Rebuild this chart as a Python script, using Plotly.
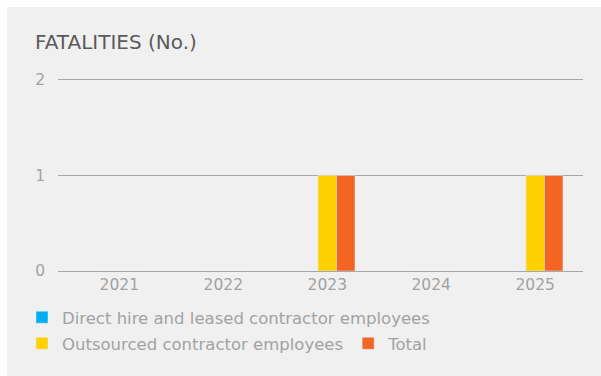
import plotly.graph_objects as go

years = ["2021", "2022", "2023", "2024", "2025"]
direct_hire = [0, 0, 0, 0, 0]
outsourced = [0, 0, 1, 0, 1]
total = [0, 0, 1, 0, 1]

FONT = "DejaVu Sans"
WEIGHT = 400
GREY = "#a2a2a2"
W, H = 601, 376
L, R, T, B = 58, 18, 78, 105
pw, ph = W - L - R, H - T - B

def px_x(px):
    return (px - L) / pw

def px_y(py):
    return (H - B - py) / ph

colors = ["#00AEEF", "#FFD100", "#F26522"]
fig = go.Figure()
fig.add_trace(go.Bar(x=years, y=direct_hire, name="Direct hire and leased contractor employees",
                     marker=dict(color=colors[0]), legend="legend", showlegend=True))
fig.add_trace(go.Bar(x=years, y=outsourced, name="Outsourced contractor employees",
                     marker=dict(color=colors[1]), legend="legend2", showlegend=True))
fig.add_trace(go.Bar(x=years, y=total, name="Total",
                     marker=dict(color=colors[2]), legend="legend2", showlegend=True))

legend_common = dict(orientation="h", xref="container", yref="container",
                     font=dict(family=FONT, size=16.5, color=GREY, weight=WEIGHT),
                     bgcolor="rgba(0,0,0,0)", borderwidth=0, visible=True,
                     xanchor="left", yanchor="middle", traceorder="normal")

fig.update_layout(
    width=W, height=H,
    margin=dict(l=L, r=R, t=T, b=B, autoexpand=False),
    paper_bgcolor="#f0f0f0",
    plot_bgcolor="#f0f0f0",
    showlegend=True,
    barmode="group",
    bargap=0.466,
    bargroupgap=0,
    font=dict(family=FONT, color=GREY, weight=WEIGHT),
    title=dict(text="FATALITIES (No.)", x=35 / W, xanchor="left", xref="container",
               y=1 - 42 / H, yanchor="middle", yref="container",
               font=dict(family=FONT, size=20, color="#5a5a5a", weight=WEIGHT)),
    xaxis=dict(type="category", range=[-0.59, 4.46], showgrid=False, zeroline=False,
               showline=False, ticks="", ticklabelstandoff=2,
               tickfont=dict(family=FONT, size=15.5, color=GREY, weight=WEIGHT),
               fixedrange=True),
    yaxis=dict(range=[0, 2.02], tickvals=[0, 1, 2], showgrid=True, gridcolor="#a8a8a8",
               gridwidth=1, zeroline=True, zerolinecolor="#a8a8a8", zerolinewidth=1,
               showline=False, ticks="", ticklabelstandoff=12,
               tickfont=dict(family=FONT, size=15.5, color=GREY, weight=WEIGHT), fixedrange=True),
    legend=dict(x=22 / W, y=1 - 317.5 / H, **legend_common),
    legend2=dict(x=22 / W, y=1 - 343.5 / H, **legend_common),
    shapes=[
        dict(type="rect", xref="paper", yref="paper", x0=px_x(0), x1=px_x(7),
             y0=px_y(H), y1=px_y(0), fillcolor="white", line_width=0, layer="below"),
        dict(type="rect", xref="paper", yref="paper", x0=px_x(0), x1=px_x(W),
             y0=px_y(7), y1=px_y(0), fillcolor="white", line_width=0, layer="below"),
    ],
)

fig.write_html("out.html")
